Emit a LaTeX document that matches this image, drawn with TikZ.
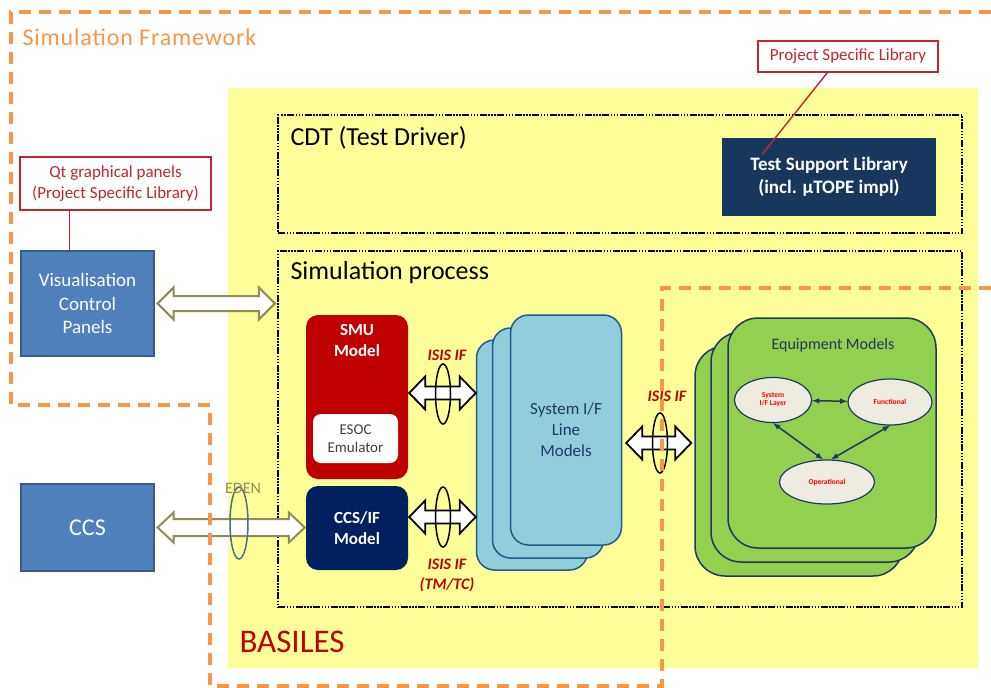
\documentclass[tikz,border=0pt]{standalone}
\usepackage{fontspec}
\setmainfont{Carlito}
\usetikzlibrary{positioning, shapes.geometric, calc}

\definecolor{fworange}{HTML}{F79646}
\definecolor{basyellow}{HTML}{FFFF99}
\definecolor{panelblue}{HTML}{4F81BD}
\definecolor{panelborder}{HTML}{385D8A}
\definecolor{tslnavy}{HTML}{17375E}
\definecolor{smured}{HTML}{C00000}
\definecolor{ccsnavy}{HTML}{002060}
\definecolor{lineblue}{HTML}{92CDDC}
\definecolor{lineborder}{HTML}{215A8C}
\definecolor{eqgreen}{HTML}{92D050}
\definecolor{eqnavy}{HTML}{1F3864}
\definecolor{ovalgray}{HTML}{EEECE1}
\definecolor{olivegray}{HTML}{948A54}
\definecolor{notered}{HTML}{C0282D}
\definecolor{edenblue}{HTML}{4A6F94}

\tikzset{
  fwdash/.style={draw=fworange, line width=3.2pt, dash pattern=on 12pt off 8pt},
  dotbox/.style={draw=black, line width=2.2pt, inner sep=0,
    dash pattern=on 7pt off 1.5pt on 1.5pt off 1.5pt on 1.5pt off 1.5pt on 1.5pt off 1.5pt},
  note/.style={draw=notered, fill=white, line width=1.2pt, text=notered, align=center,
    inner sep=0, font=\fontsize{17}{21}\selectfont},
  noteline/.style={draw=notered, line width=1.4pt},
  panel/.style={draw=panelborder, fill=panelblue, line width=1.2pt, text=white, align=center,
    inner sep=0, font=\fontsize{19}{23.5}\selectfont},
  model/.style={rounded corners=12pt, inner sep=0, minimum width=102},
  boldwhite/.style={text=white, align=center, font=\fontsize{17}{21}\selectfont\bfseries},
  sysstack/.style={draw=lineborder, fill=lineblue, line width=1.5pt, rounded corners=18pt,
    inner sep=0, minimum width=111, minimum height=230},
  eqstack/.style={draw=eqnavy, fill=eqgreen, line width=1.5pt, rounded corners=30pt,
    inner sep=0, minimum width=208, minimum height=230},
  oval/.style={ellipse, draw=eqnavy, fill=ovalgray, line width=1.2pt, inner sep=0,
    text=red, align=center, font=\fontsize{7.5}{8}\selectfont\bfseries},
  eqarrow/.style={draw=eqnavy, line width=1.5pt, latex-latex},
  olivearrow/.style={draw=olivegray, fill=white, line width=2pt},
  isisarrow/.style={draw=black, fill=white, line width=1.8pt},
  ring/.style={ellipse, draw=black, line width=1.5pt, inner sep=0, minimum width=15, minimum height=60},
  isislabel/.style={text=smured, align=center, font=\fontsize{16}{20}\selectfont\bfseries\itshape},
}

% horizontal hollow double arrow: [style]{from}{to}{shaft half}{head half}
\newcommand{\fatarrow}[5][]{%
  \draw[#1] let \p1=(#2), \p2=(#3) in
    (\x1,\y1) -- (\x1+16pt,\y1+#5) -- (\x1+16pt,\y1+#4) -- (\x2-16pt,\y1+#4)
    -- (\x2-16pt,\y1+#5) -- (\x2,\y1) -- (\x2-16pt,\y1-#5) -- (\x2-16pt,\y1-#4)
    -- (\x1+16pt,\y1-#4) -- (\x1+16pt,\y1-#5) -- cycle;}

\begin{document}
\begin{tikzpicture}[x=1pt, y=-1pt]
\useasboundingbox (0,0) rectangle (991,688);

% BASILES area
\node[fill=basyellow, inner sep=0, minimum width=750, minimum height=580] (basiles) at (603,378) {};
\node[anchor=west, text=smured, font=\fontsize{33}{36}\selectfont] (baslabel) at (236,642) {BASILES};

% test driver
\node[dotbox, minimum width=684, minimum height=118] (cdt) at (620,174) {};
\node[anchor=west, font=\fontsize{26}{30}\selectfont] (cdtlabel) at (287,138) {CDT (Test Driver)};
\node[fill=tslnavy, inner sep=0, minimum width=214, minimum height=78, text=white, align=center,
  font=\fontsize{19}{23}\selectfont\bfseries] (tsl) at (829,177) {Test Support Library\\(incl. µTOPE impl)};
\node[note, minimum width=180, minimum height=31] (pslnote) at (848,56.5) {Project Specific Library};
\draw[noteline] ($(pslnote.south west)+(70,0)$) -- ($(tsl.north west)+(40,17)$);

% simulation process
\node[dotbox, minimum width=684, minimum height=356] (sim) at (620,429) {};
\node[anchor=west, font=\fontsize{26}{30}\selectfont] (simlabel) at (287,273) {Simulation process};

\node[model, fill=smured, minimum height=164] (smu) at (357,397) {};
\node[boldwhite, below=6pt of smu.north] (smutext) {SMU\\Model};
\node[fill=white, rounded corners=8pt, inner sep=0, minimum width=85, minimum height=49,
  text=black!75, align=center, font=\fontsize{15}{18}\selectfont] (esoc) at (355.5,438.5) {ESOC\\Emulator};
\node[model, fill=ccsnavy, minimum height=84, boldwhite] (ccsif) at (357,528) {CCS/IF\\Model};

\node[sysstack] (sysback) at (532,455) {};
\node[sysstack] (sysmid) at (548,443) {};
\node[sysstack, text=eqnavy, align=center, font=\fontsize{17}{21}\selectfont] (sysfront) at (566,430)
  {System I/F\\Line\\Models};

\node[eqstack] (eqback) at (799,461) {};
\node[eqstack] (eqmid) at (815,447) {};
\node[eqstack] (eqfront) at (832,433) {};
\node[text=eqnavy, font=\fontsize{16}{19}\selectfont] (eqlabel) at (833,345) {Equipment Models};
\node[oval, minimum width=77, minimum height=45] (sysl) at (773,400) {System\\I/F Layer};
\node[oval, minimum width=84, minimum height=46] (func) at (890,402) {Functional};
\node[oval, minimum width=95, minimum height=44] (oper) at (827,482) {Operational};
\draw[eqarrow] (sysl) -- (func);
\draw[eqarrow] (sysl.south) -- ([xshift=-4pt]oper.north);
\draw[eqarrow] (func.south) -- ([xshift=4pt]oper.north);

% outside panels
\node[note, minimum width=191, minimum height=53] (qtnote) at (115.5,183.5)
  {Qt graphical panels\\(Project Specific Library)};
\node[panel, minimum width=133, minimum height=105] (vcp) at (87.5,303.5) {Visualisation\\Control\\Panels};
\draw[noteline] ($(qtnote.south west)+(50,0)$) coordinate (qtfoot) -- (qtfoot |- vcp.north);
\node[panel, minimum width=133, minimum height=87, font=\fontsize{24}{28}\selectfont] (ccs) at (87.5,527.5) {CCS};

% interfaces
\fatarrow[olivearrow]{$(vcp.east)+(3,0)$}{$(sim.west)+(-2,0)$}{7.5pt}{16pt}
\fatarrow[olivearrow]{$(ccs.east)+(3,0)$}{$(ccsif.west)+(-1,0)$}{8.5pt}{15pt}
\node[ring, draw=edenblue, minimum width=18, minimum height=72] (edenring) at (239,523) {};
\node[text=olivegray, font=\fontsize{16}{19}\selectfont] (edenlabel) at (243,488) {EDEN};

\fatarrow[isisarrow]{$(smu.east)+(1,-4)$}{sysback.west}{6.5pt}{16.5pt}
\fatarrow[isisarrow]{$(ccsif.east)+(1,-11)$}{sysback.west}{6.5pt}{16.5pt}
\fatarrow[isisarrow]{$(sysfront.east)+(4,13)$}{$(eqback.west)+(-3,0)$}{6.5pt}{16.5pt}
\node[ring] (ringsmu) at (443,394) {};
\node[ring] (ringccs) at (443,517) {};
\node[ring] (ringeq) at (660,443) {};
\node[isislabel] (isissmu) at (447,355) {ISIS IF};
\node[isislabel] (isisccs) at (447,575) {ISIS IF\\(TM/TC)};
\node[isislabel] (isiseq) at (667,396) {ISIS IF};

% simulation framework boundary
\draw[fwdash] (991,12) -- (11,12) -- (11,405) -- (210,405) -- (210,686) -- (662,686)
  -- (662,288) -- (991,288);
\node[anchor=west, text=fworange, font=\fontsize{24}{28}\selectfont\addfontfeatures{LetterSpace=3.5}]
  (fwlabel) at (19,37) {Simulation Framework};
\end{tikzpicture}
\end{document}
